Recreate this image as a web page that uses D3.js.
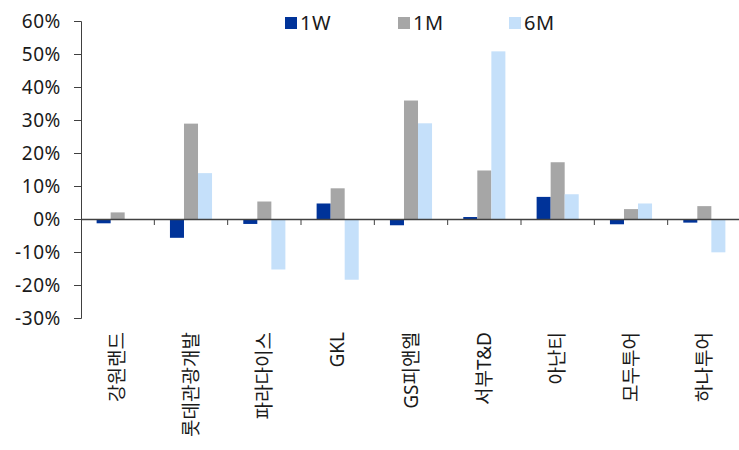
<!DOCTYPE html>
<html>
<head>
<meta charset="utf-8">
<script src="https://cdn.jsdelivr.net/npm/d3@7"></script>
<style>
  body { margin: 0; background: #fff; }
  text { font-family: "Noto Sans", "Noto Sans CJK KR", sans-serif; fill: #1a1a1a; }
</style>
</head>
<body>
<div id="chart"></div>
<script>
var categories = ["강원랜드", "롯데관광개발", "파라다이스", "GKL", "GS피앤엘", "서부T&D", "아난티", "모두투어", "하나투어"];
var seriesNames = ["1W", "1M", "6M"];
var w1 = [-1.3, -5.7, -1.5, 4.7, -1.9, 0.6, 6.7, -1.6, -1.1];
var m1 = [2.0, 28.9, 5.3, 9.3, 35.9, 14.7, 17.2, 3.0, 3.9];
var m6 = [0, 13.9, -15.3, -18.4, 29.0, 50.8, 7.5, 4.7, -10.1];
var yTicks = [-30, -20, -10, 0, 10, 20, 30, 40, 50, 60];

var colors = ["#003399", "#a6a6a6", "#c5e0fa"];
var seriesData = [w1, m1, m6];

var width = 739;
var height = 450;
var margin = { left: 81, right: -2, top: 21, bottom: 132 };

var svg = d3.select("#chart").append("svg")
    .attr("width", width)
    .attr("height", height);

var chartGroup = svg.append("g")
    .attr("transform", "translate(" + margin.left + "," + margin.top + ")");

var innerW = width - margin.left - margin.right;
var innerH = height - margin.top - margin.bottom;

var xScale = d3.scaleBand()
    .domain(categories)
    .range([0, innerW])
    .paddingInner(0)
    .paddingOuter(0);

var inner = d3.scaleBand()
    .domain(seriesNames)
    .range([xScale.bandwidth() * 0.213, xScale.bandwidth() * 0.787]);

var yScale = d3.scaleLinear()
    .domain([-30, 60])
    .range([innerH, 0]);

// bars
seriesNames.forEach(function (name, s) {
    chartGroup.selectAll(".bar" + s)
        .data(seriesData[s])
        .enter().append("rect")
        .attr("class", "bar" + s)
        .attr("x", function (d, i) { return xScale(categories[i]) + inner(name); })
        .attr("width", inner.bandwidth())
        .attr("y", function (d) { return yScale(Math.max(0, d)); })
        .attr("height", function (d) { return Math.abs(yScale(d) - yScale(0)); })
        .attr("fill", colors[s]);
});

// y axis
var yAxis = d3.axisLeft(yScale)
    .tickValues(yTicks)
    .tickSize(7)
    .tickPadding(13)
    .tickFormat(function (d) { return d + "%"; });

var yG = chartGroup.append("g").call(yAxis);
yG.select(".domain").attr("stroke", "#404040");
yG.selectAll(".tick line").attr("stroke", "#404040");
yG.selectAll("text")
    .style("font-size", "19px")
    .style("letter-spacing", "0.6px")
    .attr("fill", "#222");

// x axis at zero
var xAxis = d3.axisBottom(xScale).tickSize(0).tickFormat("");
var xG = chartGroup.append("g")
    .attr("transform", "translate(0," + yScale(0) + ")")
    .call(xAxis);
xG.select(".domain").attr("stroke", "#404040").attr("stroke-width", 1.3);

// category separators
chartGroup.selectAll(".sep")
    .data(categories.slice(1))
    .enter().append("line")
    .attr("class", "sep")
    .attr("x1", function (d) { return xScale(d); })
    .attr("x2", function (d) { return xScale(d); })
    .attr("y1", yScale(0))
    .attr("y2", yScale(0) + 6)
    .attr("stroke", "#404040");

// category labels
chartGroup.selectAll(".cat")
    .data(categories)
    .enter().append("text")
    .attr("class", "cat")
    .attr("transform", function (d) {
        return "translate(" + (xScale(d) + xScale.bandwidth() / 2) + "," + (innerH + 14) + ") rotate(-90)";
    })
    .attr("text-anchor", "end")
    .attr("dy", "0.35em")
    .style("font-size", "19px")
    .text(function (d) { return d; });

// legend
var legendX = [285, 398, 509];
var legend = svg.selectAll(".legend")
    .data(seriesNames)
    .enter().append("g")
    .attr("class", "legend")
    .attr("transform", function (d, i) { return "translate(" + legendX[i] + ",17)"; });

legend.append("rect")
    .attr("width", 12)
    .attr("height", 12)
    .attr("fill", function (d, i) { return colors[i]; });

legend.append("text")
    .attr("x", 15)
    .attr("y", 6)
    .attr("dy", "0.35em")
    .style("font-size", "20px")
    .style("letter-spacing", "0.6px")
    .text(function (d) { return d; });
</script>
</body>
</html>
